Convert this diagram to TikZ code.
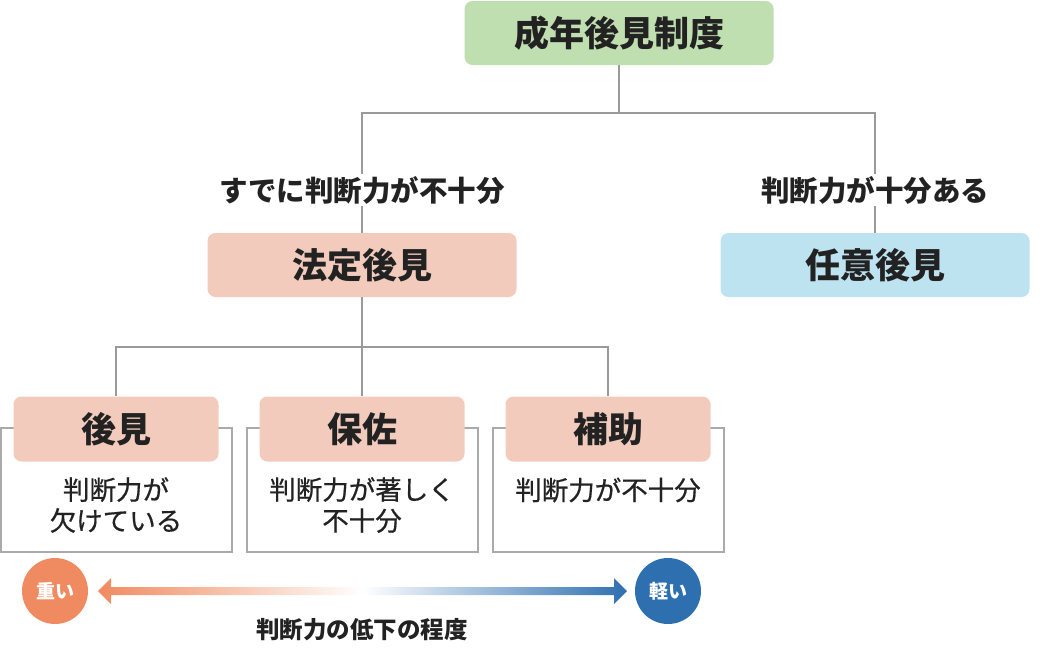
\documentclass[tikz,border=0pt]{standalone}
\usepackage{fontspec}
\setmainfont{Noto Sans CJK JP}
\newfontfamily\medfont{Noto Sans CJK JP}[FakeBold=0.6]
\definecolor{cgreen}{HTML}{BFDFB0}
\definecolor{cpink}{HTML}{F2CBBC}
\definecolor{cblue}{HTML}{BDE3F1}
\definecolor{corange}{HTML}{F08A60}
\definecolor{cdblue}{HTML}{2E6FB0}
\definecolor{cline}{HTML}{9A9A9A}
\definecolor{cframe}{HTML}{AAAAAA}
\definecolor{ctext}{HTML}{222222}
\begin{document}
\begin{tikzpicture}[x=1pt,y=-1pt,
  bigbox/.style={rounded corners=8pt, draw=none, text=ctext, font=\fontsize{35}{40}\selectfont\bfseries, minimum width=309pt, minimum height=64pt, inner sep=0pt},
  smallbox/.style={rounded corners=8pt, fill=cpink, text=ctext, font=\fontsize{35}{40}\selectfont\bfseries, minimum width=205pt, minimum height=65pt, inner sep=0pt},
  frame/.style={draw=cframe, line width=2pt},
  conn/.style={draw=cline, line width=2pt},
  lbl/.style={fill=white, text=ctext, font=\fontsize{28.5}{32}\selectfont\bfseries, inner sep=2pt},
  body/.style={text=ctext, font=\fontsize{26.5}{31}\medfont, align=center, inner sep=0pt},
  dot/.style={circle, minimum size=66pt, inner sep=0pt, text=white, font=\fontsize{19}{22}\selectfont\bfseries}
]
\useasboundingbox (0,0) rectangle (1045,657);
% frames
\draw[frame] (1,428) rectangle (232,552);
\draw[frame] (247,428) rectangle (478,552);
\draw[frame] (493,428) rectangle (724,552);
% connectors
\coordinate (j1) at (619,113);
\coordinate (j2) at (362,347);
\node[bigbox, fill=cgreen] (top) at (619,33) {成年後見制度};
\node[bigbox, fill=cpink] (hotei) at (362,265) {法定後見};
\node[bigbox, fill=cblue] (nini) at (875,265) {任意後見};
\node[smallbox] (kouken) at (116,429) {後見};
\node[smallbox] (hosa) at (362,429) {保佐};
\node[smallbox] (hojo) at (608,429) {補助};
\draw[conn] (top.south) -- (j1);
\draw[conn] (hotei.north) |- (j1) -| (nini.north);
\draw[conn] (hotei.south) -- (j2);
\draw[conn] (kouken.north) |- (j2) -| (hojo.north);
\draw[conn] (hosa.north) -- (j2);
\node[lbl] (l1) at (362,190) {すでに判断力が不十分};
\node[lbl] (l2) at (875,190) {判断力が十分ある};
% body texts
\node[body] (t1) at (116,505) {判断力が\\欠けている};
\node[body] (t2) at (362,505) {判断力が著しく\\不十分};
\node[body] (t3) at (608,490) {判断力が不十分};
% gradient arrow
\node[dot, fill=corange] (heavy) at (55,591) {重い};
\node[dot, fill=cdblue] (light) at (668,591) {軽い};
\shade[left color=corange, right color=cdblue, middle color=white]
  (98,591) -- (111,578) -- (111,587) -- (614,587) -- (614,578) -- (627,591)
  -- (614,604) -- (614,595) -- (111,595) -- (111,604) -- cycle;
\node[text=ctext, font=\fontsize{23.5}{27}\selectfont\bfseries] (scale) at (362,630) {判断力の低下の程度};
\end{tikzpicture}
\end{document}
